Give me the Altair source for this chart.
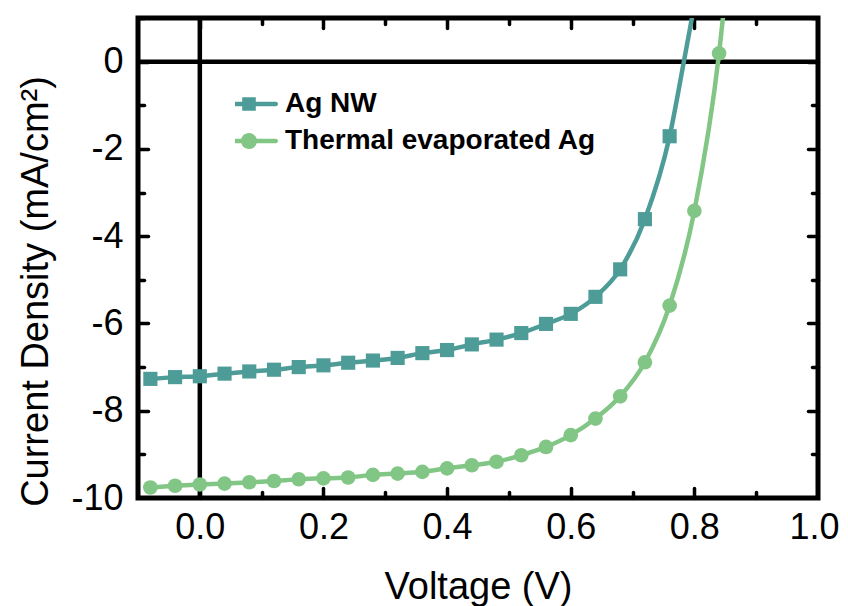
import altair as alt
import pandas as pd

SERIES = ["Ag NW", "Thermal evaporated Ag"]
COLORS = ["#4E9C97", "#82C686"]

V_AGNW = [-0.08, -0.04, 0.00, 0.04, 0.08, 0.12, 0.16, 0.20, 0.24, 0.28, 0.32,
          0.36, 0.40, 0.44, 0.48, 0.52, 0.56, 0.60, 0.64, 0.68, 0.72, 0.76]
J_AGNW = [-7.27, -7.23, -7.21, -7.15, -7.10, -7.06, -7.00, -6.96, -6.90, -6.85, -6.79,
          -6.68, -6.61, -6.48, -6.37, -6.22, -6.01, -5.78, -5.39, -4.76, -3.61, -1.71]
V_AGNW_TAIL = [0.783, 0.80]
J_AGNW_TAIL = [0.0, 1.3]

V_THERM = [-0.08, -0.04, 0.00, 0.04, 0.08, 0.12, 0.16, 0.20, 0.24, 0.28, 0.32, 0.36,
           0.40, 0.44, 0.48, 0.52, 0.56, 0.60, 0.64, 0.68, 0.72, 0.76, 0.80, 0.84]
J_THERM = [-9.76, -9.72, -9.69, -9.67, -9.64, -9.61, -9.57, -9.55, -9.53, -9.47, -9.44, -9.40,
           -9.32, -9.25, -9.17, -9.02, -8.83, -8.56, -8.18, -7.67, -6.89, -5.59, -3.42, 0.19]
V_THERM_TAIL = [0.85]
J_THERM_TAIL = [1.5]

X_LABELS = [0.0, 0.2, 0.4, 0.6, 0.8, 1.0]
X_MAJOR = [0.0, 0.2, 0.4, 0.6, 0.8]
X_MINOR = [0.1, 0.3, 0.5, 0.7, 0.9]
Y_LABELS = [0, -2, -4, -6, -8, -10]
Y_MAJOR = [0, -2, -4, -6, -8]
Y_MINOR = [1, -1, -3, -5, -7, -9]
ZERO = [0.0]

FONT = "Liberation Sans, Arial, sans-serif"

# legend symbols: line segment with marker (unit coords, scaled by sqrt(size)/2)
PATH_SQ = ("M-2.68,-0.22H2.68A0.22,0.22 0 0 1 2.68,0.22H-2.68A0.22,0.22 0 0 1 -2.68,-0.22Z "
           "M-0.68,-0.68H0.68V0.68H-0.68Z")
PATH_CI = ("M-2.68,-0.22H2.68A0.22,0.22 0 0 1 2.68,0.22H-2.68A0.22,0.22 0 0 1 -2.68,-0.22Z "
           "M-0.8,0A0.8,0.8 0 1 1 0.8,0A0.8,0.8 0 1 1 -0.8,0Z")

pts = pd.DataFrame({
    "series": [SERIES[0]] * len(V_AGNW) + [SERIES[1]] * len(V_THERM),
    "V": V_AGNW + V_THERM,
    "J": J_AGNW + J_THERM,
})
line_nw = pd.DataFrame({"V": V_AGNW + V_AGNW_TAIL, "J": J_AGNW + J_AGNW_TAIL})
line_th = pd.DataFrame({"V": V_THERM + V_THERM_TAIL, "J": J_THERM + J_THERM_TAIL})
pts_nw = pd.DataFrame({"V": V_AGNW, "J": J_AGNW})
pts_th = pd.DataFrame({"V": V_THERM, "J": J_THERM})
zero = pd.DataFrame({"z": ZERO})

xscale = alt.Scale(domain=[-0.1, 1.0], nice=False, zero=False)
yscale = alt.Scale(domain=[-10, 1], nice=False, zero=False)


def tick_axis(orient, values, size):
    return alt.Axis(orient=orient, values=values, tickSize=size, offset=-size,
                    labels=False, domain=False, grid=False, ticks=True,
                    tickWidth=3.5, tickColor="black", tickCap="round", title=None)


x_label_axis = alt.Axis(orient="bottom", values=X_LABELS, format=".1f", ticks=False, tickSize=0,
                        domain=False, grid=False, labelFont=FONT, labelFontSize=36,
                        labelColor="black", labelPadding=12.5, labelFlush=True,
                        labelFlushOffset=21, labelOverlap=False, title="Voltage (V)",
                        titleFont=FONT, titleFontSize=38, titleFontWeight="normal",
                        titleColor="black", titleX=340, titleY=100, titleAlign="center",
                        titleBaseline="alphabetic")
y_label_axis = alt.Axis(orient="left", values=Y_LABELS, labelExpr="'' + datum.value", ticks=False,
                        tickSize=0, domain=False, grid=False, labelFont=FONT, labelFontSize=36,
                        labelColor="black", labelPadding=15, labelFlush=False,
                        labelOverlap=False, title="Current Density (mA/cm²)", titleFont=FONT,
                        titleFontSize=38, titleFontWeight="normal", titleColor="black",
                        titleAngle=270, titleX=-91, titleY=273, titleAlign="center",
                        titleBaseline="alphabetic")

hline = alt.Chart(zero).mark_rule(color="black", strokeWidth=4.5).encode(
    y=alt.Y("z:Q", scale=yscale, axis=None))
vline = alt.Chart(zero).mark_rule(color="black", strokeWidth=4.5).encode(
    x=alt.X("z:Q", scale=xscale, axis=None))

l_nw = alt.Chart(line_nw).mark_line(color=COLORS[0], strokeWidth=4.5, interpolate="monotone",
                                    clip=True).encode(
    x=alt.X("V:Q", scale=xscale, axis=x_label_axis),
    y=alt.Y("J:Q", scale=yscale, axis=y_label_axis))
l_th = alt.Chart(line_th).mark_line(color=COLORS[1], strokeWidth=4.5, interpolate="monotone",
                                    clip=True).encode(
    x=alt.X("V:Q", scale=xscale, axis=tick_axis("bottom", X_MAJOR, 10)),
    y=alt.Y("J:Q", scale=yscale, axis=tick_axis("left", Y_MAJOR, 10)))
p_nw = alt.Chart(pts_nw).mark_point(shape="square", filled=True, size=200, opacity=1,
                                    color=COLORS[0], clip=True).encode(
    x=alt.X("V:Q", scale=xscale, axis=tick_axis("bottom", X_MINOR, 6)),
    y=alt.Y("J:Q", scale=yscale, axis=tick_axis("left", Y_MINOR, 6)))
p_th = alt.Chart(pts_th).mark_point(shape="circle", filled=True, size=215, opacity=1,
                                    color=COLORS[1], clip=True).encode(
    x=alt.X("V:Q", scale=xscale, axis=tick_axis("top", X_MAJOR, 10)),
    y=alt.Y("J:Q", scale=yscale, axis=tick_axis("right", Y_MAJOR, 10)))

legend = alt.Legend(title=None, orient="none", legendX=97, legendY=71, padding=0,
                    symbolSize=400, symbolStrokeWidth=0, symbolOpacity=1,
                    labelFont=FONT, labelFontSize=28, labelFontWeight="bold",
                    labelColor="black", labelOffset=22, labelLimit=600,
                    rowPadding=7, clipHeight=30)
leg_layer = alt.Chart(pts).mark_point(filled=True, opacity=0, size=10).encode(
    x=alt.X("V:Q", scale=xscale, axis=tick_axis("top", X_MINOR, 6)),
    y=alt.Y("J:Q", scale=yscale, axis=tick_axis("right", Y_MINOR, 6)),
    color=alt.Color("series:N", scale=alt.Scale(domain=SERIES, range=COLORS), legend=legend),
    shape=alt.Shape("series:N", scale=alt.Scale(domain=SERIES, range=[PATH_SQ, PATH_CI]),
                    legend=legend),
)

chart = alt.layer(hline, vline, l_nw, l_th, p_nw, p_th, leg_layer).resolve_axis(
    x="independent", y="independent"
).properties(
    width=680, height=480,
    autosize=alt.AutoSizeParams(type="none"),
    padding={"left": 130, "top": 10, "right": 22, "bottom": 108},
).configure_view(stroke="black", strokeWidth=5)

chart.save("out.html", embed_options={"renderer": "svg", "actions": False})
